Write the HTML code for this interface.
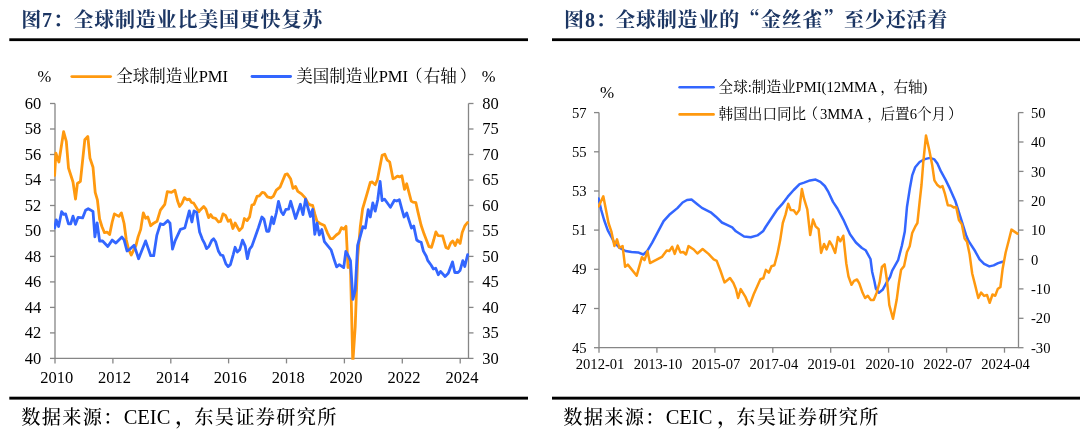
<!DOCTYPE html>
<html lang="zh-CN"><head><meta charset="utf-8"><title>图7 图8</title>
<style>
html,body{margin:0;padding:0;background:#fff}
body{width:1080px;height:433px;position:relative;overflow:hidden;font-family:"Liberation Serif","Noto Serif CJK SC",serif}
</style></head><body>
<svg width="1080" height="433" viewBox="0 0 1080 433" style="position:absolute;left:0;top:0">
<defs><clipPath id="cl"><rect x="54.0" y="103.5" width="415.5" height="256.3"/></clipPath>
<clipPath id="cr"><rect x="598.0" y="112.6" width="421.5" height="235.9"/></clipPath></defs>
<g stroke="#868686" stroke-width="1.3" fill="none">
<path d="M55.0 103.5V358.4H468.5V103.5"/>
<path d="M50.0 103.5H55.0"/>
<path d="M468.5 103.5H473.5"/>
<path d="M50.0 129.0H55.0"/>
<path d="M468.5 129.0H473.5"/>
<path d="M50.0 154.5H55.0"/>
<path d="M468.5 154.5H473.5"/>
<path d="M50.0 180.0H55.0"/>
<path d="M468.5 180.0H473.5"/>
<path d="M50.0 205.5H55.0"/>
<path d="M468.5 205.5H473.5"/>
<path d="M50.0 230.9H55.0"/>
<path d="M468.5 230.9H473.5"/>
<path d="M50.0 256.4H55.0"/>
<path d="M468.5 256.4H473.5"/>
<path d="M50.0 281.9H55.0"/>
<path d="M468.5 281.9H473.5"/>
<path d="M50.0 307.4H55.0"/>
<path d="M468.5 307.4H473.5"/>
<path d="M50.0 332.9H55.0"/>
<path d="M468.5 332.9H473.5"/>
<path d="M50.0 358.4H55.0"/>
<path d="M468.5 358.4H473.5"/>
<path d="M55.0 358.4V363.4"/>
<path d="M112.9 358.4V363.4"/>
<path d="M170.8 358.4V363.4"/>
<path d="M228.6 358.4V363.4"/>
<path d="M286.5 358.4V363.4"/>
<path d="M344.4 358.4V363.4"/>
<path d="M402.3 358.4V363.4"/>
<path d="M460.2 358.4V363.4"/>
</g>
<g font-family="'Liberation Serif','Noto Serif CJK SC',serif" font-size="16.5" fill="#000">
<text x="41.3" y="108.9" text-anchor="end">60</text>
<text x="482.2" y="108.9">80</text>
<text x="41.3" y="134.4" text-anchor="end">58</text>
<text x="482.2" y="134.4">75</text>
<text x="41.3" y="159.9" text-anchor="end">56</text>
<text x="482.2" y="159.9">70</text>
<text x="41.3" y="185.4" text-anchor="end">54</text>
<text x="482.2" y="185.4">65</text>
<text x="41.3" y="210.9" text-anchor="end">52</text>
<text x="482.2" y="210.9">60</text>
<text x="41.3" y="236.3" text-anchor="end">50</text>
<text x="482.2" y="236.3">55</text>
<text x="41.3" y="261.8" text-anchor="end">48</text>
<text x="482.2" y="261.8">50</text>
<text x="41.3" y="287.3" text-anchor="end">46</text>
<text x="482.2" y="287.3">45</text>
<text x="41.3" y="312.8" text-anchor="end">44</text>
<text x="482.2" y="312.8">40</text>
<text x="41.3" y="338.3" text-anchor="end">42</text>
<text x="482.2" y="338.3">35</text>
<text x="41.3" y="363.8" text-anchor="end">40</text>
<text x="482.2" y="363.8">30</text>
<text x="56.7" y="383.2" text-anchor="middle">2010</text>
<text x="114.6" y="383.2" text-anchor="middle">2012</text>
<text x="172.5" y="383.2" text-anchor="middle">2014</text>
<text x="230.3" y="383.2" text-anchor="middle">2016</text>
<text x="288.2" y="383.2" text-anchor="middle">2018</text>
<text x="346.1" y="383.2" text-anchor="middle">2020</text>
<text x="404.0" y="383.2" text-anchor="middle">2022</text>
<text x="461.9" y="383.2" text-anchor="middle">2024</text>
<text x="37.5" y="82.3">%</text>
<text x="481.8" y="82.3">%</text>
<text x="116.2" y="81.6">全球制造业PMI</text>
<text x="296.2" y="81.6">美国制造业PMI<tspan dx="-2">（</tspan><tspan dx="1.2">右轴</tspan><tspan dx="3">）</tspan></text>
</g>
<path d="M71.8 76.6H110.6" stroke="#FF990F" stroke-width="2.8" stroke-linecap="round"/>
<path d="M252 76.5H290.6" stroke="#3366FF" stroke-width="2.8" stroke-linecap="round"/>
<g clip-path="url(#cl)" fill="none" stroke-linejoin="round" stroke-linecap="round" stroke-width="2.8">
<polyline stroke="#FF990F" points="54.6,175.4 55.9,153.1 58.9,162.0 63.6,131.7 66.3,141.3 68.5,168.0 73.0,182.0 75.5,199.1 77.4,183.5 80.4,181.3 84.8,139.8 87.8,136.5 90.0,158.3 93.0,167.2 94.9,189.0 95.2,192.4 97.4,199.8 99.6,219.0 101.9,226.5 104.5,232.7 107.0,232.1 109.6,234.6 112.2,222.0 114.4,213.9 118.9,216.4 121.4,212.9 124.1,223.5 126.3,239.8 128.5,249.0 131.2,255.0 135.9,245.7 138.1,236.9 140.7,229.4 143.3,212.9 145.6,218.3 147.8,216.9 150.7,225.7 153.7,223.2 157.0,221.3 160.4,210.2 164.8,204.3 167.3,191.7 171.5,192.4 174.9,190.2 177.7,201.3 179.6,206.5 181.9,203.5 184.4,197.6 187.0,199.8 189.3,199.1 191.5,202.5 193.7,203.1 198.9,211.7 200.0,210.2 203.7,206.5 205.9,209.1 208.6,217.6 210.7,214.6 212.6,217.6 215.6,218.3 218.5,222.0 220.7,221.3 223.0,213.9 225.5,215.4 228.1,221.3 230.4,219.8 232.9,228.5 235.1,223.0 239.3,230.6 242.2,227.6 244.4,218.5 247.1,220.6 249.6,216.9 251.9,205.0 254.1,204.3 257.0,196.4 259.3,195.8 262.2,192.4 264.4,192.9 267.4,196.9 271.1,197.9 273.3,196.4 276.3,190.2 280.0,187.2 285.2,174.6 287.4,173.9 290.7,179.1 293.0,188.4 295.6,186.5 297.8,191.4 301.5,193.9 305.2,197.9 308.1,203.5 310.4,205.0 312.6,205.3 314.8,213.9 317.0,221.3 320.0,223.5 324.4,225.5 327.4,232.8 330.4,238.7 332.6,238.7 336.3,235.0 339.3,232.8 341.5,227.6 343.7,229.1 346.0,226.3 348.0,267.5 350.4,265.0 352.8,363.0 355.2,327.0 357.7,257.0 360.3,226.7 362.6,208.9 367.0,193.9 370.3,182.3 372.2,182.0 375.2,184.7 377.4,179.8 382.1,155.4 384.8,154.2 387.0,159.8 389.7,162.0 393.0,178.8 394.4,178.3 397.4,176.1 399.6,176.9 401.9,175.8 404.5,189.4 406.7,183.8 411.2,201.0 413.0,202.2 415.9,202.7 418.1,212.6 421.1,225.2 424.1,234.1 427.0,241.5 429.0,246.7 431.5,247.4 433.7,240.0 435.9,231.9 438.1,235.6 442.6,235.9 445.9,247.4 448.2,248.6 450.7,243.0 452.7,240.9 455.2,245.5 457.5,239.7 460.1,243.4 462.2,232.5 464.8,225.9 467.5,222.5"/>
<polyline stroke="#3366FF" points="54.7,228.0 56.2,219.8 58.6,226.5 61.6,211.7 63.6,214.3 65.6,213.9 68.5,223.8 70.7,223.8 73.0,216.1 75.5,224.3 78.1,217.3 82.6,217.9 85.6,210.2 88.2,208.7 93.0,211.4 94.9,236.9 97.1,222.8 99.6,241.0 102.6,241.0 107.8,246.5 112.2,240.1 115.9,243.1 121.9,237.1 124.1,239.8 127.0,251.0 130.0,249.1 134.1,245.2 138.6,258.7 145.6,240.9 150.7,255.7 153.7,255.7 156.8,235.4 160.4,223.8 163.3,224.7 167.8,220.6 170.0,223.2 172.5,249.0 175.2,240.6 180.4,229.4 184.8,228.0 189.3,210.9 191.9,222.0 194.0,210.9 196.7,212.4 199.6,232.0 202.4,239.3 204.4,243.1 206.5,248.6 208.9,246.5 211.9,240.2 213.6,238.7 215.6,241.7 218.5,251.3 220.7,255.0 223.0,255.7 225.9,263.9 228.1,266.6 230.4,264.6 233.3,254.3 235.1,247.3 237.3,252.0 239.7,249.8 242.5,240.2 245.2,246.1 247.4,258.7 249.6,249.1 251.9,246.1 255.6,235.7 258.5,227.5 261.9,217.0 264.0,219.3 266.7,231.3 268.9,231.3 271.9,217.0 273.6,223.7 276.3,213.0 278.5,201.3 281.2,211.7 283.3,214.6 285.9,209.4 288.6,209.1 290.7,201.3 295.6,218.5 300.4,204.3 303.0,214.6 305.5,199.1 310.4,216.5 312.6,209.4 314.8,234.3 317.0,223.1 319.3,235.0 321.8,229.5 324.4,241.7 327.4,245.4 331.1,249.8 334.1,259.4 336.6,266.9 339.3,264.6 343.7,267.6 345.8,251.5 348.0,255.2 350.5,260.8 352.9,299.4 355.2,290.5 357.6,245.5 360.2,236.5 362.9,226.7 365.3,228.1 368.2,209.6 370.3,217.0 372.8,203.0 375.2,211.1 377.7,200.0 380.1,181.3 382.1,200.6 384.5,199.1 387.0,202.5 390.4,207.3 394.4,200.2 396.7,201.0 399.3,199.7 401.9,209.3 404.1,217.0 406.7,213.0 411.5,228.1 413.7,225.9 416.7,240.0 418.9,241.5 421.2,242.3 423.4,251.1 426.3,256.3 427.7,260.4 431.2,265.2 433.4,269.0 435.7,268.2 438.3,274.8 440.5,271.4 445.1,276.5 448.3,273.3 452.5,261.9 454.8,272.5 458.0,272.5 460.0,270.6 462.8,260.7 464.8,266.5 467.6,254.7"/>
</g>
<g stroke="#868686" stroke-width="1.3" fill="none">
<path d="M599.0 112.6V347.7H1018.5V112.6"/>
<path d="M594.0 112.6H599.0"/>
<path d="M594.0 151.8H599.0"/>
<path d="M594.0 191.0H599.0"/>
<path d="M594.0 230.1H599.0"/>
<path d="M594.0 269.3H599.0"/>
<path d="M594.0 308.5H599.0"/>
<path d="M594.0 347.7H599.0"/>
<path d="M1018.5 112.6H1023.5"/>
<path d="M1018.5 142.0H1023.5"/>
<path d="M1018.5 171.4H1023.5"/>
<path d="M1018.5 200.8H1023.5"/>
<path d="M1018.5 230.1H1023.5"/>
<path d="M1018.5 259.5H1023.5"/>
<path d="M1018.5 288.9H1023.5"/>
<path d="M1018.5 318.3H1023.5"/>
<path d="M1018.5 347.7H1023.5"/>
<path d="M599.0 347.7V352.7"/>
<path d="M656.9 347.7V352.7"/>
<path d="M714.9 347.7V352.7"/>
<path d="M772.8 347.7V352.7"/>
<path d="M830.7 347.7V352.7"/>
<path d="M888.6 347.7V352.7"/>
<path d="M946.6 347.7V352.7"/>
<path d="M1004.5 347.7V352.7"/>
</g>
<g font-family="'Liberation Serif','Noto Serif CJK SC',serif" font-size="14.6" fill="#000">
<text x="586.6" y="117.7" text-anchor="end">57</text>
<text x="586.6" y="156.9" text-anchor="end">55</text>
<text x="586.6" y="196.1" text-anchor="end">53</text>
<text x="586.6" y="235.2" text-anchor="end">51</text>
<text x="586.6" y="274.4" text-anchor="end">49</text>
<text x="586.6" y="313.6" text-anchor="end">47</text>
<text x="586.6" y="352.8" text-anchor="end">45</text>
<text x="1031.0" y="117.7">50</text>
<text x="1031.0" y="147.1">40</text>
<text x="1031.0" y="176.5">30</text>
<text x="1031.0" y="205.9">20</text>
<text x="1031.0" y="235.2">10</text>
<text x="1031.0" y="264.6">0</text>
<text x="1031.0" y="294.0">-10</text>
<text x="1031.0" y="323.4">-20</text>
<text x="1031.0" y="352.8">-30</text>
<text x="600.1" y="369.4" text-anchor="middle">2012-01</text>
<text x="658.0" y="369.4" text-anchor="middle">2013-10</text>
<text x="716.0" y="369.4" text-anchor="middle">2015-07</text>
<text x="773.9" y="369.4" text-anchor="middle">2017-04</text>
<text x="831.8" y="369.4" text-anchor="middle">2019-01</text>
<text x="889.8" y="369.4" text-anchor="middle">2020-10</text>
<text x="947.7" y="369.4" text-anchor="middle">2022-07</text>
<text x="1005.6" y="369.4" text-anchor="middle">2024-04</text>
<text x="600.0" y="98.2" font-size="17">%</text>
<text x="718.6" y="91.8">全球:制造业PMI(12MMA<tspan dx="2.7">，</tspan><tspan dx="-1.4">右轴)</tspan></text>
<text x="718.6" y="119.2">韩国出口同比<tspan dx="-2.7">（</tspan><tspan dx="1.9">3MMA</tspan><tspan dx="3.5">，</tspan><tspan dx="-1.4">后置6个月</tspan><tspan dx="1.9">）</tspan></text>
</g>
<path d="M679.6 87.3H713.6" stroke="#3366FF" stroke-width="2.6" stroke-linecap="round"/>
<path d="M679.6 114.4H713.6" stroke="#FF990F" stroke-width="2.6" stroke-linecap="round"/>
<g clip-path="url(#cr)" fill="none" stroke-linejoin="round" stroke-linecap="round" stroke-width="2.5">
<polyline stroke="#3366FF" points="598.6,198.5 601.1,209.6 604.1,220.0 607.8,230.4 612.2,238.5 613.7,241.6 619.6,248.0 625.6,251.0 631.5,252.0 638.1,252.4 643.3,254.5 647.0,251.3 652.2,242.7 656.7,234.1 663.6,221.2 669.3,214.8 677.4,208.1 682.6,202.5 687.0,200.0 691.5,199.6 696.7,203.7 701.9,207.9 710.7,212.3 715.9,216.7 721.9,222.5 727.0,224.9 732.2,227.4 735.9,231.3 744.1,236.5 750.7,237.2 757.4,235.4 763.3,230.9 765.6,227.0 777.4,209.3 781.9,204.4 787.8,196.7 793.7,190.0 799.6,184.1 804.1,182.6 810.0,180.4 815.6,179.6 820.4,181.9 824.8,186.0 828.5,192.2 833.0,201.9 837.4,208.5 843.3,219.6 850.0,234.3 855.9,242.5 861.9,248.0 865.6,250.2 870.5,259.0 872.2,272.0 874.4,281.3 875.9,288.8 878.9,292.8 882.6,289.8 886.3,283.0 890.0,277.2 892.2,270.6 898.1,260.2 901.9,245.5 904.8,231.5 907.0,206.7 910.0,187.4 912.2,175.4 915.2,167.2 919.6,162.0 924.8,159.1 930.0,157.9 934.4,159.4 937.4,163.5 941.1,171.7 945.6,179.9 950.0,188.9 955.2,200.7 960.4,217.0 966.0,234.9 968.5,240.9 975.2,251.3 979.6,259.4 984.1,263.9 989.3,266.4 993.7,265.4 998.1,263.1 1002.6,261.7"/>
<polyline stroke="#FF990F" points="598.6,206.4 603.3,196.3 605.6,208.1 608.5,223.0 611.5,231.9 614.4,246.0 617.0,239.4 619.3,247.6 622.6,246.1 625.1,266.8 627.8,264.6 636.7,275.7 641.9,257.2 644.5,260.1 647.5,251.3 650.0,263.1 661.9,256.9 666.7,250.5 669.3,251.0 672.2,246.8 674.7,253.9 677.7,245.6 680.4,252.4 683.3,252.0 686.0,254.5 688.5,246.1 693.7,249.5 697.4,253.5 702.6,249.0 708.5,253.9 713.7,259.4 716.7,260.9 720.4,270.5 724.5,282.4 730.0,278.0 733.4,283.0 735.9,289.0 738.1,298.0 740.7,289.1 745.6,297.2 749.3,306.1 753.7,294.3 760.4,279.3 763.3,278.3 765.9,269.9 768.8,272.7 771.5,266.2 774.4,265.3 777.4,253.9 780.1,240.6 782.8,223.0 785.6,214.4 788.2,203.8 790.7,210.0 793.7,210.3 796.4,214.1 799.3,210.0 801.9,189.0 804.1,198.9 807.3,209.3 810.2,235.0 813.0,219.6 815.6,226.3 818.6,229.2 821.1,252.9 824.1,244.0 826.6,249.4 829.6,241.3 832.2,245.7 835.2,252.9 837.9,236.9 840.4,241.3 843.3,235.7 846.3,263.5 848.5,276.5 851.5,284.8 854.0,280.8 857.0,279.5 859.3,283.3 862.6,292.8 865.1,298.0 867.8,295.7 870.7,299.9 873.7,300.0 876.7,292.6 879.6,282.4 881.9,267.0 884.6,264.3 887.0,280.5 889.3,305.0 893.0,318.8 896.7,299.8 898.9,283.0 901.1,269.8 904.1,266.1 907.0,252.0 909.7,246.3 912.2,233.0 915.2,226.7 917.4,223.0 919.6,202.2 921.5,185.0 923.3,162.0 926.0,135.4 929.3,150.2 932.2,165.0 934.4,180.4 937.4,185.1 940.2,187.3 942.5,186.1 944.8,193.3 947.8,205.2 950.7,205.5 953.7,207.4 956.2,207.0 958.9,220.0 961.9,224.4 964.6,238.5 967.0,241.7 969.6,254.3 972.2,273.5 975.2,285.4 978.3,298.0 981.1,292.6 984.1,295.9 987.0,295.0 989.7,302.8 992.5,294.5 995.2,295.8 997.7,289.1 1000.4,287.0 1002.6,269.1 1005.6,252.8 1008.5,241.5 1011.5,229.6 1017.4,233.6"/>
</g>
<rect x="9.3" y="38.3" width="518.7" height="2.8" fill="#000"/>
<rect x="9.3" y="396.7" width="518.7" height="2.9" fill="#000"/>
<rect x="552.0" y="38.3" width="528.0" height="2.8" fill="#000"/>
<rect x="552.0" y="396.7" width="528.0" height="2.9" fill="#000"/>
<g font-family="'Liberation Serif','Noto Serif CJK SC',serif" font-size="20" font-weight="700" fill="#1C3663" letter-spacing="0.8">
<text x="21.3" y="27.2">图7：<tspan dx="-0.3">全球制造业比美国更快复苏</tspan></text>
<text x="564.1" y="27.2">图8：<tspan dx="-1.3">全球制造业的</tspan><tspan font-family="'Noto Serif CJK SC',serif">“</tspan>金丝雀<tspan font-family="'Noto Serif CJK SC',serif">”</tspan>至少还活着</text>
</g>
<g font-family="'Liberation Serif','Noto Serif CJK SC',serif" font-size="19.2" font-weight="500" fill="#000" letter-spacing="1.3">
<text x="21.2" y="424.3">数据来源：<tspan font-size="20.5" letter-spacing="0">CEIC</tspan><tspan dx="5.2" font-weight="700">，</tspan><tspan dx="-1.8">东吴证券研究所</tspan></text>
<text x="563.2" y="424.3">数据来源：<tspan font-size="20.5" letter-spacing="0">CEIC</tspan><tspan dx="5.2" font-weight="700">，</tspan><tspan dx="-1.8">东吴证券研究所</tspan></text>
</g>
</svg>
</body></html>
